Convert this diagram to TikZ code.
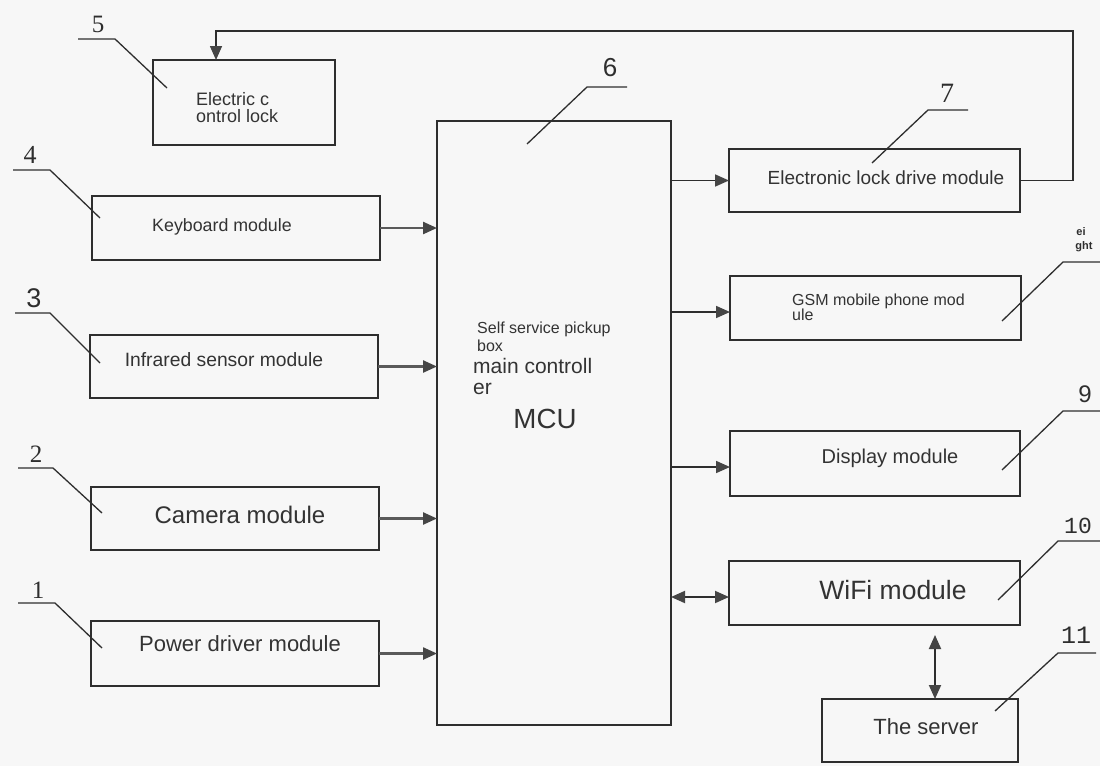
\documentclass[tikz,border=0pt]{standalone}
\usepackage{fontspec}
\setmainfont{Liberation Sans}
\newfontfamily\numserif{Liberation Serif}
\newfontfamily\nummono{Liberation Mono}
\usetikzlibrary{arrows.meta}
\definecolor{bgc}{HTML}{F7F7F7}
\definecolor{linec}{HTML}{2E2E2E}
\definecolor{arrc}{HTML}{5A5A5A}
\definecolor{tipc}{HTML}{454545}
\definecolor{txtc}{HTML}{333333}
\newcommand{\fs}[1]{\fontsize{#1}{#1}\selectfont}
\begin{document}
\begin{tikzpicture}[x=1pt,y=-1pt,
  box/.style={draw=linec, line width=1.8pt, anchor=north west, inner sep=0pt, outer sep=0pt},
  txt/.style={text=txtc, inner sep=0pt, anchor=base},
  ltxt/.style={text=txtc, inner sep=0pt, anchor=base west, align=left},
  num/.style={text=linec, inner sep=0pt, anchor=base},
  lead/.style={draw=linec, line width=1.3pt},
  arr/.style={draw=arrc, line width=2.4pt, -{Triangle[length=14pt,width=12pt,color=tipc]}},
  rarr/.style={draw=linec, line width=1.7pt, -{Triangle[length=14pt,width=12pt,color=tipc]}},
  darr/.style={draw=linec, line width=1.9pt, {Triangle[length=14pt,width=12pt,color=tipc]}-{Triangle[length=14pt,width=12pt,color=tipc]}},
  fbarr/.style={draw=linec, line width=1.6pt, -{Triangle[length=14pt,width=12pt,color=tipc]}}
]
\fill[bgc] (0,0) rectangle (1100,766);
\useasboundingbox (0,0) rectangle (1100,766);

% boxes
\node[box, minimum width=182pt, minimum height=85pt] (lock) at (153,60) {};
\node[box, minimum width=288pt, minimum height=64pt] (kb) at (92,196) {};
\node[box, minimum width=288pt, minimum height=63pt] (ir) at (90,335) {};
\node[box, minimum width=288pt, minimum height=63pt] (cam) at (91,487) {};
\node[box, minimum width=288pt, minimum height=65pt] (pwr) at (91,621) {};
\node[box, minimum width=234pt, minimum height=604pt] (mcu) at (437,121) {};
\node[box, minimum width=291pt, minimum height=63pt] (elock) at (729,149) {};
\node[box, minimum width=291pt, minimum height=64pt] (gsm) at (730,276) {};
\node[box, minimum width=290pt, minimum height=65pt] (disp) at (730,431) {};
\node[box, minimum width=291pt, minimum height=64pt] (wifi) at (729,561) {};
\node[box, minimum width=196pt, minimum height=63pt] (server) at (822,699) {};

% texts (multi-line nodes: base = last line)
\node[ltxt, font=\fontsize{18}{17}\selectfont] (tlock) at (196,122) {Electric c\\ontrol lock};
\node[txt, font=\fs{17.8}] (tkb) at (222,231) {Keyboard module};
\node[txt, font=\fs{19.3}] (tir) at (224,366) {Infrared sensor module};
\node[txt, font=\fs{24}] (tcam) at (240,523) {Camera module};
\node[txt, font=\fs{22}] (tpwr) at (240,651) {Power driver module};
\node[ltxt, font=\fontsize{16}{18}\selectfont] (tmcu1) at (477,351) {Self service pickup\\box};
\node[ltxt, font=\fontsize{21}{21}\selectfont] (tmcu2) at (473,394) {main controll\\er};
\node[txt, font=\fs{27.7}] (tmcu3) at (545,428) {MCU};
\node[txt, font=\fs{19}] (telock) at (886,184) {Electronic lock drive module};
\node[ltxt, font=\fontsize{16}{15}\selectfont] (tgsm) at (792,320) {GSM mobile phone mod\\ule};
\node[txt, font=\fs{20}] (tdisp) at (890,463) {Display module};
\node[txt, font=\fs{26.5}] (twifi) at (893,599) {WiFi module};
\node[txt, font=\fs{22}] (tserver) at (926,734) {The server};

% connectors
\draw[arr] (kb.east) -- (kb.east -| mcu.west);
\draw[arr] (ir.east) -- (ir.east -| mcu.west);
\draw[arr] (cam.east) -- (cam.east -| mcu.west);
\draw[arr] (pwr.east) -- (pwr.east -| mcu.west);
\draw[rarr] (mcu.east |- elock.west) -- (elock.west);
\coordinate (gy) at (0,312);
\draw[rarr] (mcu.east |- gy) -- (gsm.west |- gy);
\coordinate (dy) at (0,467);
\draw[rarr] (mcu.east |- dy) -- (disp.west |- dy);
\coordinate (wy) at (0,597);
\draw[darr] (mcu.east |- wy) -- (wifi.west |- wy);
\coordinate (sx) at (935,0);
\draw[darr, shorten <=10pt] (wifi.south -| sx) -- (server.north -| sx);
\coordinate (fb1) at (1073,31);
\coordinate (fb2) at (216,31);
\draw[fbarr] (elock.east) -| (fb1) -- (fb2) -- (fb2 |- lock.north);

% reference numbers with leader lines
\node[num, font=\numserif\fs{25}] (n5) at (98,32) {5};
\draw[lead] (78,39) -- (115,39) -- (167,88);
\node[num, font=\numserif\fs{26}] (n4) at (30,163) {4};
\draw[lead] (13,170) -- (50,170) -- (100,218);
\node[num, font=\fs{27}] (n3) at (34,307) {3};
\draw[lead] (15,313) -- (50,313) -- (100,363);
\node[num, font=\numserif\fs{25}] (n2) at (36,462) {2};
\draw[lead] (18,468) -- (53,468) -- (102,513);
\node[num, font=\numserif\fs{25}] (n1) at (38,598) {1};
\draw[lead] (18,603) -- (55,603) -- (102,648);
\node[num, font=\fs{26}] (n6) at (610,76) {6};
\draw[lead] (627,87) -- (587,87) -- (527,144);
\node[num, font=\numserif\fs{28}] (n7) at (947,102) {7};
\draw[lead] (968,110) -- (928,110) -- (872,163);
\node[num, font=\bfseries\fs{11}] (n8a) at (1081,235) {ei};
\node[num, font=\bfseries\fs{11}] (n8b) at (1084,249) {ght};
\draw[lead] (1100,262) -- (1063,262) -- (1002,321);
\node[num, font=\fs{24}] (n9) at (1085,402) {9};
\draw[lead] (1100,411) -- (1063,411) -- (1002,470);
\node[num, font=\nummono\fs{23}] (n10) at (1078,533) {10};
\draw[lead] (1100,541) -- (1058,541) -- (998,600);
\node[num, font=\nummono\fs{25}] (n11) at (1076,643) {11};
\draw[lead] (1096,653) -- (1058,653) -- (995,711);
\end{tikzpicture}
\end{document}
